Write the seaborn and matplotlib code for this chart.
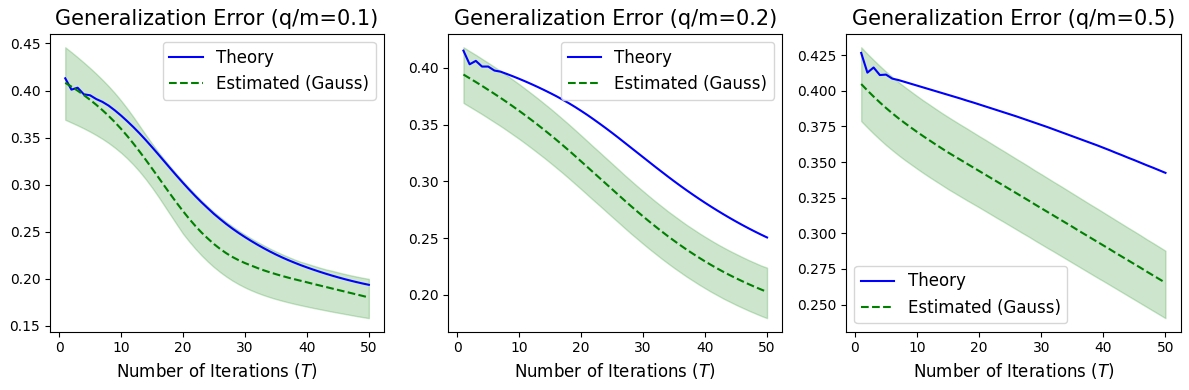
import matplotlib
matplotlib.use("Agg")
import matplotlib.pyplot as plt
import seaborn as sns

iterations = list(range(1, 51))

titles = ["Generalization Error (q/m=0.1)",
          "Generalization Error (q/m=0.2)",
          "Generalization Error (q/m=0.5)"]

theory_01 = [0.4130, 0.4010, 0.4030, 0.3960, 0.3950, 0.3910, 0.3880, 0.3840, 0.3790, 0.3735,
             0.3675, 0.3612, 0.3545, 0.3474, 0.3400, 0.3324, 0.3247, 0.3170, 0.3094, 0.3020,
             0.2948, 0.2879, 0.2813, 0.2751, 0.2690, 0.2635, 0.2582, 0.2533, 0.2487, 0.2444,
             0.2403, 0.2364, 0.2327, 0.2292, 0.2259, 0.2228, 0.2199, 0.2172, 0.2146, 0.2122,
             0.2099, 0.2077, 0.2056, 0.2036, 0.2017, 0.1999, 0.1982, 0.1966, 0.1951, 0.1937]
est_01 = [0.4082, 0.4042, 0.3999, 0.3952, 0.3902, 0.3849, 0.3792, 0.3731, 0.3665, 0.3594,
          0.3518, 0.3437, 0.3352, 0.3264, 0.3173, 0.3081, 0.2988, 0.2896, 0.2806, 0.2720,
          0.2638, 0.2562, 0.2492, 0.2429, 0.2370, 0.2318, 0.2272, 0.2232, 0.2198, 0.2168,
          0.2142, 0.2116, 0.2092, 0.2070, 0.2050, 0.2031, 0.2013, 0.1996, 0.1980, 0.1964,
          0.1947, 0.1931, 0.1915, 0.1899, 0.1883, 0.1867, 0.1851, 0.1835, 0.1819, 0.1803]
lower_01 = [0.3690, 0.3660, 0.3630, 0.3598, 0.3564, 0.3527, 0.3487, 0.3443, 0.3394, 0.3340,
            0.3280, 0.3213, 0.3139, 0.3058, 0.2970, 0.2876, 0.2777, 0.2677, 0.2578, 0.2480,
            0.2397, 0.2320, 0.2249, 0.2184, 0.2125, 0.2072, 0.2024, 0.1981, 0.1943, 0.1909,
            0.1879, 0.1852, 0.1828, 0.1806, 0.1786, 0.1768, 0.1751, 0.1735, 0.1720, 0.1706,
            0.1692, 0.1679, 0.1666, 0.1653, 0.1641, 0.1629, 0.1617, 0.1605, 0.1594, 0.1583]
upper_01 = [0.4460, 0.4408, 0.4354, 0.4298, 0.4240, 0.4179, 0.4115, 0.4047, 0.3974, 0.3895,
            0.3810, 0.3720, 0.3625, 0.3530, 0.3438, 0.3350, 0.3268, 0.3189, 0.3112, 0.3038,
            0.2966, 0.2897, 0.2831, 0.2769, 0.2711, 0.2657, 0.2605, 0.2557, 0.2512, 0.2470,
            0.2430, 0.2392, 0.2357, 0.2323, 0.2291, 0.2261, 0.2233, 0.2206, 0.2181, 0.2162,
            0.2141, 0.2121, 0.2102, 0.2087, 0.2070, 0.2054, 0.2039, 0.2025, 0.2012, 0.2000]

theory_02 = [0.4150, 0.4030, 0.4060, 0.4010, 0.4010, 0.3975, 0.3965, 0.3945, 0.3924, 0.3902,
             0.3879, 0.3855, 0.3830, 0.3804, 0.3777, 0.3749, 0.3719, 0.3688, 0.3655, 0.3620,
             0.3584, 0.3546, 0.3507, 0.3467, 0.3426, 0.3384, 0.3341, 0.3298, 0.3255, 0.3212,
             0.3169, 0.3126, 0.3084, 0.3042, 0.3001, 0.2961, 0.2922, 0.2884, 0.2847, 0.2811,
             0.2776, 0.2742, 0.2709, 0.2677, 0.2646, 0.2616, 0.2587, 0.2559, 0.2532, 0.2506]
est_02 = [0.3940, 0.3907, 0.3874, 0.3840, 0.3805, 0.3770, 0.3734, 0.3697, 0.3659, 0.3620,
          0.3580, 0.3539, 0.3497, 0.3454, 0.3410, 0.3365, 0.3319, 0.3272, 0.3224, 0.3175,
          0.3126, 0.3077, 0.3028, 0.2979, 0.2930, 0.2881, 0.2832, 0.2784, 0.2737, 0.2691,
          0.2646, 0.2602, 0.2559, 0.2517, 0.2477, 0.2438, 0.2400, 0.2364, 0.2329, 0.2295,
          0.2263, 0.2232, 0.2202, 0.2174, 0.2147, 0.2121, 0.2096, 0.2072, 0.2049, 0.2027]
lower_02 = [0.3690, 0.3657, 0.3624, 0.3591, 0.3556, 0.3521, 0.3486, 0.3449, 0.3411, 0.3373,
            0.3333, 0.3292, 0.3250, 0.3208, 0.3164, 0.3119, 0.3074, 0.3027, 0.2979, 0.2931,
            0.2882, 0.2833, 0.2785, 0.2736, 0.2687, 0.2639, 0.2590, 0.2542, 0.2496, 0.2450,
            0.2405, 0.2362, 0.2319, 0.2278, 0.2238, 0.2200, 0.2162, 0.2127, 0.2092, 0.2059,
            0.2027, 0.1997, 0.1967, 0.1940, 0.1913, 0.1888, 0.1863, 0.1840, 0.1817, 0.1796]
upper_02 = [0.4180, 0.4146, 0.4113, 0.4078, 0.4043, 0.4007, 0.3970, 0.3933, 0.3894, 0.3855,
            0.3814, 0.3772, 0.3730, 0.3686, 0.3642, 0.3596, 0.3549, 0.3502, 0.3453, 0.3404,
            0.3354, 0.3304, 0.3255, 0.3205, 0.3156, 0.3106, 0.3056, 0.3008, 0.2960, 0.2914,
            0.2868, 0.2823, 0.2780, 0.2737, 0.2697, 0.2657, 0.2618, 0.2582, 0.2546, 0.2512,
            0.2479, 0.2447, 0.2417, 0.2388, 0.2361, 0.2334, 0.2308, 0.2284, 0.2260, 0.2240]

theory_05 = [0.4265, 0.4127, 0.4163, 0.4110, 0.4113, 0.4085, 0.4075, 0.4062, 0.4049, 0.4036,
             0.4023, 0.4010, 0.3997, 0.3984, 0.3971, 0.3958, 0.3945, 0.3931, 0.3918, 0.3904,
             0.3890, 0.3876, 0.3862, 0.3848, 0.3834, 0.3820, 0.3805, 0.3790, 0.3775, 0.3760,
             0.3745, 0.3729, 0.3713, 0.3697, 0.3681, 0.3665, 0.3649, 0.3633, 0.3617, 0.3600,
             0.3583, 0.3565, 0.3548, 0.3530, 0.3513, 0.3495, 0.3477, 0.3460, 0.3442, 0.3424]
est_05 = [0.4047, 0.4002, 0.3959, 0.3918, 0.3879, 0.3842, 0.3807, 0.3774, 0.3742, 0.3711,
          0.3681, 0.3652, 0.3623, 0.3595, 0.3567, 0.3541, 0.3515, 0.3489, 0.3463, 0.3437,
          0.3411, 0.3385, 0.3359, 0.3333, 0.3307, 0.3281, 0.3255, 0.3229, 0.3202, 0.3176,
          0.3150, 0.3124, 0.3098, 0.3072, 0.3046, 0.3019, 0.2993, 0.2967, 0.2941, 0.2915,
          0.2889, 0.2862, 0.2836, 0.2810, 0.2784, 0.2758, 0.2731, 0.2705, 0.2679, 0.2653]
lower_05 = [0.3787, 0.3742, 0.3699, 0.3658, 0.3619, 0.3583, 0.3548, 0.3515, 0.3484, 0.3453,
            0.3423, 0.3394, 0.3366, 0.3338, 0.3310, 0.3284, 0.3258, 0.3232, 0.3207, 0.3182,
            0.3156, 0.3130, 0.3104, 0.3079, 0.3053, 0.3027, 0.3001, 0.2976, 0.2949, 0.2923,
            0.2897, 0.2872, 0.2846, 0.2820, 0.2794, 0.2768, 0.2742, 0.2716, 0.2690, 0.2665,
            0.2639, 0.2613, 0.2587, 0.2561, 0.2535, 0.2509, 0.2483, 0.2457, 0.2431, 0.2405]
upper_05 = [0.4305, 0.4259, 0.4216, 0.4174, 0.4134, 0.4097, 0.4061, 0.4027, 0.3995, 0.3963,
            0.3932, 0.3903, 0.3873, 0.3844, 0.3816, 0.3789, 0.3762, 0.3736, 0.3709, 0.3682,
            0.3656, 0.3629, 0.3602, 0.3576, 0.3549, 0.3522, 0.3496, 0.3469, 0.3441, 0.3415,
            0.3388, 0.3361, 0.3335, 0.3308, 0.3281, 0.3254, 0.3227, 0.3200, 0.3174, 0.3147,
            0.3120, 0.3093, 0.3066, 0.3039, 0.3013, 0.2986, 0.2958, 0.2932, 0.2905, 0.2878]

panels = [
    (theory_01, est_01, lower_01, upper_01, "upper right"),
    (theory_02, est_02, lower_02, upper_02, "upper right"),
    (theory_05, est_05, lower_05, upper_05, "lower left"),
]

fig = plt.figure(figsize=(11.89, 3.90), dpi=100)
lefts = [0.0421, 0.3770, 0.7115]
widths = [0.2809, 0.2809, 0.2815]

for i, (th, es, lo, up, loc) in enumerate(panels):
    ax = fig.add_axes([lefts[i], 0.1495, widths[i], 0.7641])
    ax.fill_between(iterations, lo, up, color="green", alpha=0.2, linewidth=1)
    sns.lineplot(x=iterations, y=th, ax=ax, color="blue", label="Theory", linewidth=1.5)
    sns.lineplot(x=iterations, y=es, ax=ax, color="green", linestyle="--",
                 label="Estimated (Gauss)", linewidth=1.5)
    ax.set_title(titles[i], fontsize=15)
    ax.set_xlabel("Number of Iterations ($T$)", fontsize=12)
    ax.set_ylabel("")
    ax.set_xticks([0, 10, 20, 30, 40, 50])
    ax.legend(loc=loc, fontsize=12)

fig.savefig("out.png", dpi=100)
